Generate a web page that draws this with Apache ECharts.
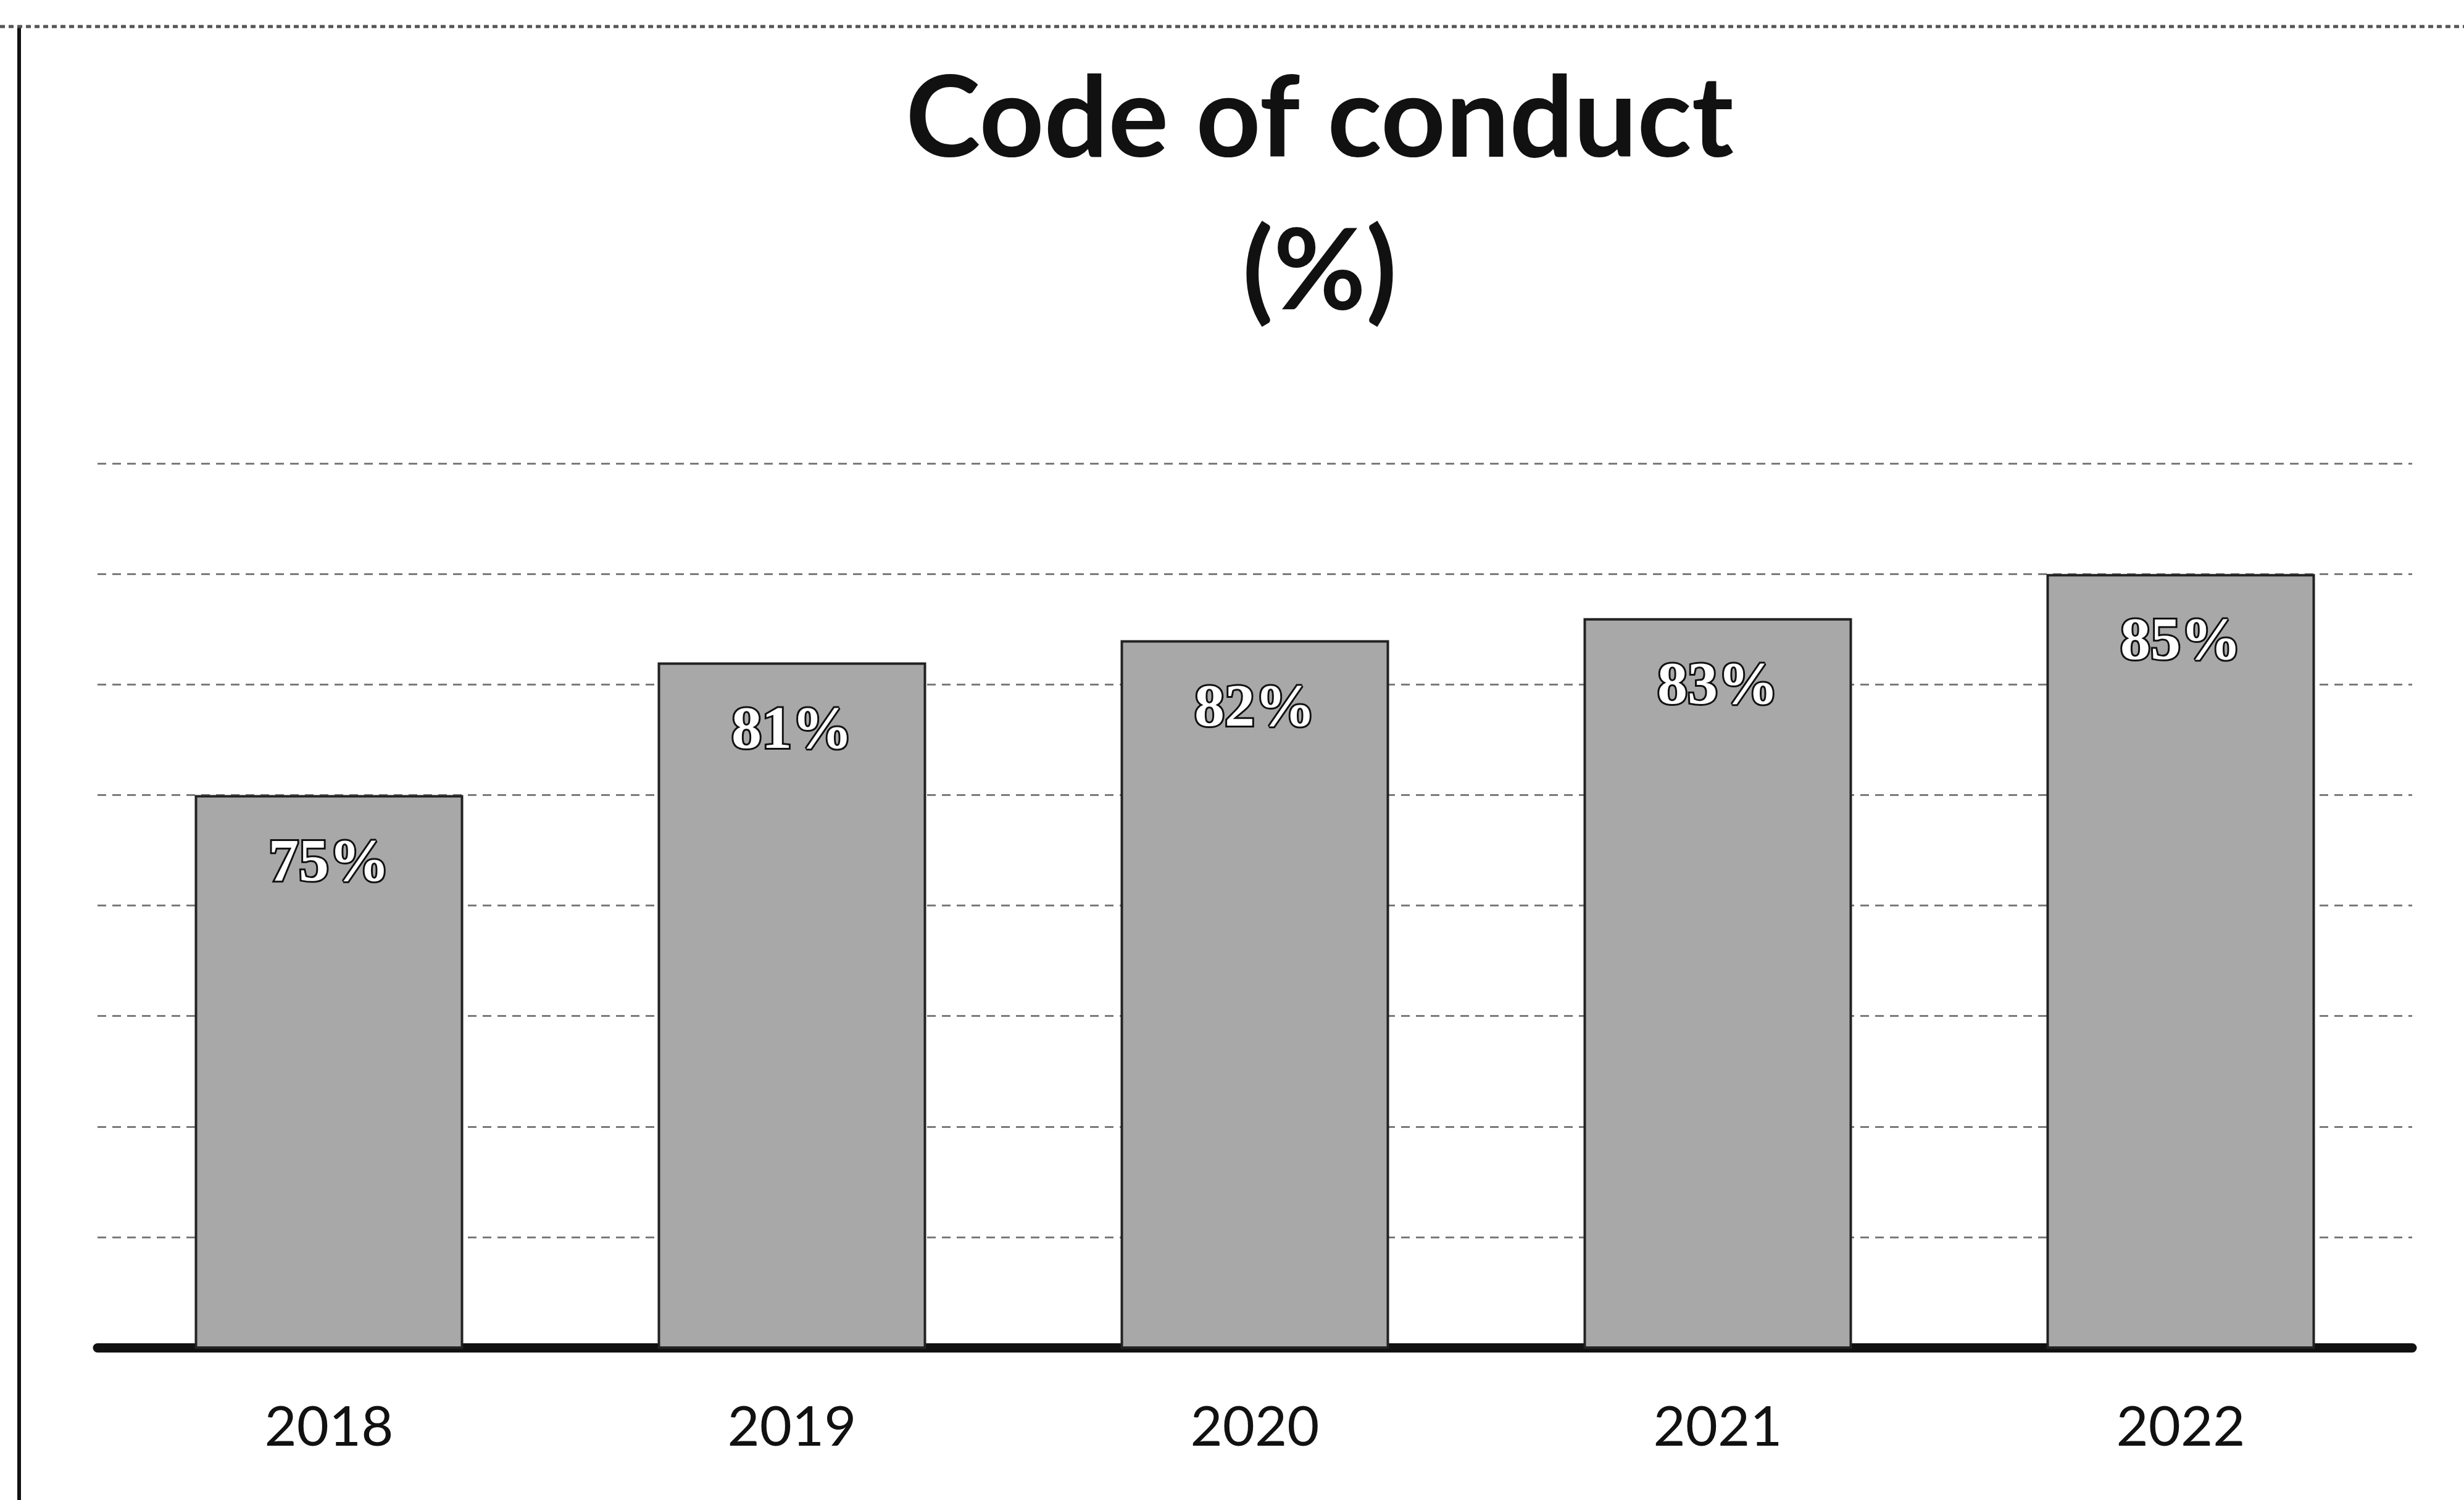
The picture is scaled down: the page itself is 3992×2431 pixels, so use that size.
<!DOCTYPE html>
<html>
<head>
<meta charset="utf-8">
<script src="https://cdn.jsdelivr.net/npm/echarts@6/dist/echarts.min.js"></script>
<style>
html,body{margin:0;padding:0;background:#fff;}
#chart{width:3992px;height:2431px;}
</style>
</head>
<body>
<div id="chart"></div>
<script>
const categories = ['2018', '2019', '2020', '2021', '2022'];
const values = [75, 81, 82, 83, 85];
const valueLabels = ['75%', '81%', '82%', '83%', '85%'];
const titleLines = ['Code of conduct', '(%)'];

const chart = echarts.init(document.getElementById('chart'));
chart.setOption({
  backgroundColor: '#ffffff',
  animation: false,
  title: {
    text: titleLines.join('\n'),
    left: 2133,
    top: 66,
    textAlign: 'center',
    textStyle: {
      fontFamily: 'Lato',
      fontWeight: 'bold',
      fontSize: 183,
      lineHeight: 247,
      color: '#111'
    }
  },
  graphic: [
    { type: 'line', shape: { x1: 31, y1: 43, x2: 31, y2: 2431 }, style: { stroke: '#111', lineWidth: 6 } },
    { type: 'line', shape: { x1: 0, y1: 43, x2: 3992, y2: 43 }, style: { stroke: '#555', lineWidth: 5, lineDash: [8, 6] } }
  ],
  grid: { left: 158, right: 84, top: 751, bottom: 247 },
  xAxis: {
    type: 'category',
    data: categories,
    axisTick: { show: false },
    axisLine: { show: true, lineStyle: { color: '#111', width: 15 } },
    axisLabel: { fontFamily: 'Lato', fontSize: 90, color: '#111', margin: 85 }
  },
  yAxis: {
    type: 'value',
    min: 50,
    max: 90,
    interval: 5,
    axisLabel: { show: false },
    axisLine: { show: false },
    axisTick: { show: false },
    splitLine: { show: true, lineStyle: { color: '#7a7a7a', width: 3, type: [14, 10] } }
  },
  series: [{
    type: 'bar',
    data: values,
    barWidth: '58%',
    itemStyle: { color: '#a8a8a8', borderColor: '#222', borderWidth: 4 },
    label: {
      show: true,
      position: 'insideTop',
      distance: 64,
      formatter: p => valueLabels[p.dataIndex],
      fontFamily: 'Liberation Serif',
      fontWeight: 'bold',
      fontSize: 98,
      color: '#ffffff',
      textBorderColor: '#111',
      textBorderWidth: 6
    }
  }]
});
</script>
</body>
</html>
